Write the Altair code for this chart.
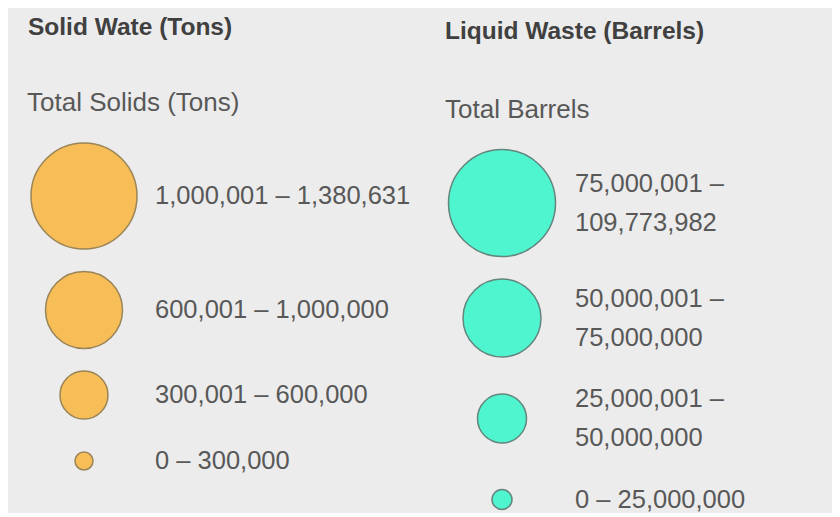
import altair as alt

# ---------------- data ----------------
solid_title = "Solid Wate (Tons)"
solid_subtitle = "Total Solids (Tons)"
solid_classes = ["1,000,001 – 1,380,631", "600,001 – 1,000,000",
                 "300,001 – 600,000", "0 – 300,000"]

liquid_title = "Liquid Waste (Barrels)"
liquid_subtitle = "Total Barrels"
liquid_classes = ["75,000,001 – 109,773,982", "50,000,001 – 75,000,000",
                  "25,000,001 – 50,000,000", "0 – 25,000,000"]

# ---------------- style / layout ----------------
W, H = 824, 501          # chart size (page has 8px margin)
OFF = 8                  # page margin offset
FONT = "Liberation Sans"
LINE_H = 39
ROW_GAP = 22.5
BG = "#ececec"

panels = [
    dict(key="solid", title=solid_title, subtitle=solid_subtitle, classes=solid_classes,
         radii=[53, 38.5, 24, 9], fill="#f7bd56", stroke="#9a8558",
         circle_x=84, label_x=155, title_xy=(28, 35), subtitle_xy=(27, 111),
         rows_top=143, wrap_chars=None),
    dict(key="liquid", title=liquid_title, subtitle=liquid_subtitle, classes=liquid_classes,
         radii=[53.5, 39, 24.5, 10], fill="#4ef5cf", stroke="#64857d",
         circle_x=502, label_x=575, title_xy=(445, 39), subtitle_xy=(445, 118),
         rows_top=149.5, wrap_chars=16),
]

header_rows, sub_rows, class_rows = [], [], []
size_domain, size_range = [], []
for p in panels:
    header_rows.append(dict(x=p["title_xy"][0] - OFF, y=p["title_xy"][1] - OFF, t=p["title"]))
    sub_rows.append(dict(x=p["subtitle_xy"][0] - OFF, y=p["subtitle_xy"][1] - OFF, t=p["subtitle"]))
    # legend-style stacking of rows from symbol size and label line count
    y = p["rows_top"]
    prev_half = None
    for lab, r in zip(p["classes"], p["radii"]):
        if p["wrap_chars"] and len(lab) > p["wrap_chars"]:
            text = lab.replace(" – ", " –\n", 1)
        else:
            text = lab
        lines = text.count("\n") + 1
        half = max(r, lines * LINE_H / 2)
        if prev_half is None:
            yc = y + half
        else:
            yc = y + prev_half + ROW_GAP + half
        y = yc
        prev_half = half
        key = p["key"] + ":" + lab
        size_domain.append(key)
        size_range.append(round((2 * r) ** 2, 1))   # Vega circle size = (diameter)^2
        class_rows.append(dict(panel=p["key"], key=key, label=text,
                               cx=p["circle_x"] - OFF, lx=p["label_x"] - OFF, y=yc - OFF,
                               ly=yc - OFF - (lines - 1) * LINE_H / 2))

xs = alt.Scale(domain=[0, W], nice=False, zero=False)
ys = alt.Scale(domain=[0, H], nice=False, zero=False, reverse=True)

base_classes = alt.Chart(alt.Data(values=class_rows))

circles = base_classes.mark_circle(opacity=1, strokeWidth=1.5, strokeOpacity=1).encode(
    x=alt.X("cx:Q", scale=xs, axis=None),
    y=alt.Y("y:Q", scale=ys, axis=None),
    size=alt.Size("key:N", scale=alt.Scale(type="ordinal", domain=size_domain, range=size_range),
                  legend=None),
    fill=alt.Fill("panel:N", scale=alt.Scale(domain=[p["key"] for p in panels],
                                             range=[p["fill"] for p in panels]), legend=None),
    stroke=alt.Stroke("panel:N", scale=alt.Scale(domain=[p["key"] for p in panels],
                                                 range=[p["stroke"] for p in panels]), legend=None),
)

labels = base_classes.mark_text(
    align="left", baseline="middle", font=FONT, fontSize=25.5, color="#585858",
    lineBreak="\n", lineHeight=LINE_H,
).encode(
    x=alt.X("lx:Q", scale=xs, axis=None),
    y=alt.Y("ly:Q", scale=ys, axis=None),
    text="label:N",
)

titles = alt.Chart(alt.Data(values=header_rows)).mark_text(
    align="left", baseline="alphabetic", font=FONT, fontSize=24.5, fontWeight="bold", color="#404040",
).encode(
    x=alt.X("x:Q", scale=xs, axis=None),
    y=alt.Y("y:Q", scale=ys, axis=None),
    text="t:N",
)

subtitles = alt.Chart(alt.Data(values=sub_rows)).mark_text(
    align="left", baseline="alphabetic", font=FONT, fontSize=26, color="#585858",
).encode(
    x=alt.X("x:Q", scale=xs, axis=None),
    y=alt.Y("y:Q", scale=ys, axis=None),
    text="t:N",
)

chart = alt.layer(titles, subtitles, circles, labels).properties(
    width=W, height=H, padding=0, background=BG,
).configure_view(stroke=None)

chart.save("out.html", embed_options={"renderer": "svg", "actions": False})
